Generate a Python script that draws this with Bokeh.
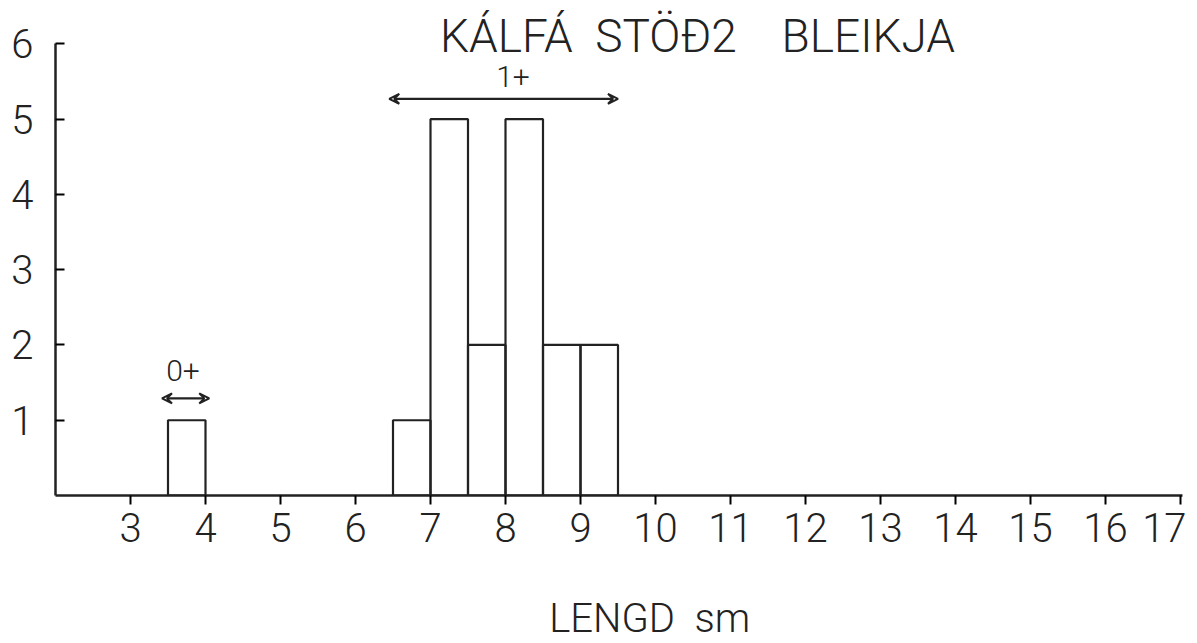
from bokeh.plotting import figure
from bokeh.models import Range1d, FixedTicker, Arrow, VeeHead, ColumnDataSource
from bokeh.core.properties import value
from bokeh.embed import file_html
from bokeh.resources import INLINE

# ---- data ----
bin_left = [3.5, 6.5, 7.0, 7.5, 8.0, 8.5, 9.0]
bin_right = [4.0, 7.0, 7.5, 8.0, 8.5, 9.0, 9.5]
counts = [1, 1, 5, 2, 5, 2, 2]

x_ticks = [3, 4, 5, 6, 7, 8, 9, 10, 11, 12, 13, 14, 15, 16, 17]
y_ticks = [1, 2, 3, 4, 5, 6]

age_labels = ["0+", "1+"]
age_start = [3.42, 6.45]
age_end = [4.05, 9.5]
age_arrow_y = [1.29, 5.27]
age_label_x = [3.7, 8.1]
age_label_y = [1.66, 5.57]

title_text = "KÁLFÁ\u00a0\u00a0STÖÐ2\u00a0\u00a0\u00a0\u00a0BLEIKJA"
x_label = "\u00a0" * 6 + "LENGD\u00a0\u00a0sm"

FONT = "'DejaVu Sans ExtraLight', 'Roboto Light', 'Lato Light', 'Liberation Sans', sans-serif"

p = figure(frame_width=1130, frame_height=487,
           x_range=Range1d(2, 2 + 1130 / 75.0), y_range=Range1d(0, 6.47),
           output_backend="svg", toolbar_location=None,
           min_border_left=55, min_border_right=1, min_border_top=8, min_border_bottom=135)
p.grid.visible = False
p.outline_line_color = None
p.background_fill_color = "white"
p.border_fill_color = "white"

src = ColumnDataSource(dict(left=bin_left, right=bin_right, top=counts, bottom=[0] * len(counts)))
p.quad(left="left", right="right", top="top", bottom="bottom", source=src,
       fill_color=None, line_color="#222222", line_width=2.2)

xa = p.xaxis[0]
xa.ticker = FixedTicker(ticks=x_ticks)
xa.bounds = (2, 17.02)
xa.axis_line_width = 2.5
xa.axis_line_color = "#222222"
xa.major_tick_out = 9
xa.major_tick_in = 0
xa.minor_tick_out = 0
xa.minor_tick_in = 0
xa.major_tick_line_width = 2
xa.major_label_text_font = FONT
xa.major_label_text_font_size = "40px"
xa.major_label_text_color = "#222222"
xa.major_label_standoff = 8
xa.axis_label = x_label
xa.axis_label_text_font = FONT
xa.axis_label_text_font_size = "40px"
xa.axis_label_text_font_style = "normal"
xa.axis_label_text_color = "#222222"
xa.axis_label_standoff = 50

ya = p.yaxis[0]
ya.ticker = FixedTicker(ticks=y_ticks)
ya.bounds = (0, 6)
ya.axis_line_width = 2.5
ya.axis_line_color = "#222222"
ya.major_tick_in = 9
ya.major_tick_out = 0
ya.minor_tick_out = 0
ya.minor_tick_in = 0
ya.major_tick_line_width = 2
ya.major_label_text_font = FONT
ya.major_label_text_font_size = "40px"
ya.major_label_text_color = "#222222"
ya.major_label_standoff = 22

for xs, xe, yy in zip(age_start, age_end, age_arrow_y):
    p.add_layout(Arrow(start=VeeHead(size=10, line_width=2, line_color="#222222", fill_color=None),
                       end=VeeHead(size=10, line_width=2, line_color="#222222", fill_color=None),
                       x_start=xs, y_start=yy, x_end=xe, y_end=yy,
                       line_width=2.2, line_color="#222222"))

p.text(x=age_label_x, y=age_label_y, text=age_labels, text_font=value(FONT),
       text_font_size="30px", text_align="center", text_baseline="middle", text_color="#222222")

p.text(x=[10.56], y=[6.1], text=[title_text], text_font=value(FONT),
       text_font_size="46px", text_align="center", text_baseline="middle", text_color="#222222")

open("out.html", "w").write(file_html(p, INLINE))
